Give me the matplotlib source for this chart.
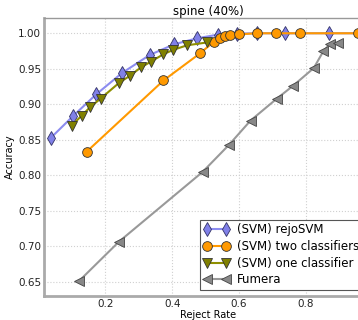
import numpy as np
import matplotlib
matplotlib.use('Agg')
import matplotlib.pyplot as plt

# reject rate / accuracy values
rejo_x = [0.037, 0.105, 0.173, 0.25, 0.333, 0.406, 0.475, 0.536, 0.595, 0.653, 0.736, 0.869, 1.0]
rejo_y = [0.8525, 0.884, 0.914, 0.944, 0.9695, 0.9845, 0.993, 0.998, 0.9995, 1.0, 1.0, 1.0, 1.0]

two_x = [0.144, 0.374, 0.484, 0.524, 0.544, 0.558, 0.574, 0.601, 0.653, 0.71, 0.782, 0.954]
two_y = [0.833, 0.9335, 0.972, 0.988, 0.994, 0.9967, 0.998, 0.9985, 1.0, 1.0, 1.0, 1.0]

one_x = [0.0997, 0.1295, 0.155, 0.186, 0.241, 0.273, 0.307, 0.336, 0.374, 0.403, 0.444, 0.503]
one_y = [0.870, 0.884, 0.896, 0.908, 0.930, 0.940, 0.952, 0.960, 0.9705, 0.9766, 0.983, 0.987]

fum_x = [0.1215, 0.241, 0.491, 0.570, 0.634, 0.712, 0.761, 0.823, 0.852, 0.871, 0.895]
fum_y = [0.651, 0.7065, 0.8048, 0.843, 0.877, 0.9077, 0.926, 0.951, 0.975, 0.9845, 0.986]

labels = ['(SVM) rejoSVM', '(SVM) two classifiers', '(SVM) one classifier', 'Fumera']

plt.rcParams['font.family'] = 'DejaVu Sans'
fig = plt.figure(figsize=(3.58, 3.2), dpi=100)
ax = fig.add_axes([44 / 358., 24 / 320., 329 / 358., 278 / 320.])

ax.plot(rejo_x, rejo_y, color='#8c8cf0', lw=1.5, marker='d', ms=7,
        mfc='#8080e8', mec='#333366', mew=0.6, label=labels[0])
ax.plot(two_x, two_y, color='#ff9900', lw=1.5, marker='o', ms=7,
        mfc='#ff9900', mec='#333333', mew=0.6, label=labels[1])
ax.plot(one_x, one_y, color='#8f8f00', lw=1.5, marker='v', ms=7,
        mfc='#808000', mec='#333333', mew=0.6, label=labels[2])
ax.plot(fum_x, fum_y, color='#999999', lw=1.5, marker='<', ms=7,
        mfc='#888888', mec='#444444', mew=0.6, label=labels[3])

ax.set_xlim(0.017, 1.0)
ax.set_ylim(0.63, 1.0215)
ax.set_xticks([0.2, 0.4, 0.6, 0.8])
ax.set_yticks([0.65, 0.70, 0.75, 0.80, 0.85, 0.90, 0.95, 1.00])
ax.set_yticklabels(['%.2f' % v for v in ax.get_yticks()])
ax.tick_params(length=0, labelsize=7.5, pad=2, colors='#222222')
ax.grid(True, color='#d0d0d0', linestyle=':', linewidth=0.8)
ax.set_axisbelow(True)

for s in ['left', 'bottom']:
    ax.spines[s].set_color('#aaaaaa')
    ax.spines[s].set_linewidth(2)
ax.spines['top'].set_color('#999999')
ax.spines['top'].set_linewidth(1)
ax.spines['right'].set_visible(False)

ax.set_title('spine (40%)', fontsize=8.5, pad=2.5)
ax.set_xlabel('Reject Rate', fontsize=7, labelpad=1)
ax.set_ylabel('Accuracy', fontsize=7, labelpad=2)

leg = ax.legend(loc='lower left', bbox_to_anchor=(200 / 358., 30 / 320.),
                bbox_transform=fig.transFigure, borderaxespad=0,
                fontsize=8.5, numpoints=2,
                fancybox=False, framealpha=1, handlelength=2.2,
                borderpad=0.3, labelspacing=0.32, handletextpad=0.6)
leg.get_frame().set_edgecolor('#555555')
leg.get_frame().set_linewidth(0.8)

fig.savefig('out.png', dpi=100)
